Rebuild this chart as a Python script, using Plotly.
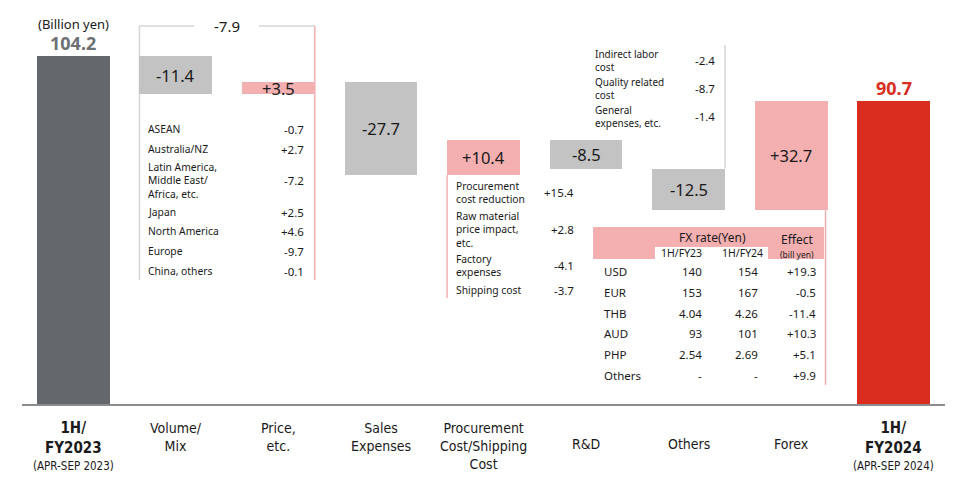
import plotly.graph_objects as go

# ---------------- data ----------------
categories = ["1H/<br>FY2023", "Volume/<br>Mix", "Price,<br>etc.", "Sales<br>Expenses",
              "Procurement<br>Cost/Shipping<br>Cost", "R&D", "Others", "Forex", "1H/<br>FY2024"]
period_labels = ["(APR-SEP 2023)", "(APR-SEP 2024)"]
start_total = 104.2
changes = [-11.4, 3.5, -27.7, 10.4, -8.5, -12.5, 32.7]
end_total = 90.7
volume_price_total = "-7.9"

volume_items = ["ASEAN", "Australia/NZ", "Latin America,<br>Middle East/<br>Africa, etc.",
                "Japan", "North America", "Europe", "China, others"]
volume_values = ["-0.7", "+2.7", "-7.2", "+2.5", "+4.6", "-9.7", "-0.1"]

procurement_items = ["Procurement<br>cost reduction", "Raw material<br>price impact,<br>etc.",
                     "Factory<br>expenses", "Shipping cost"]
procurement_values = ["+15.4", "+2.8", "-4.1", "-3.7"]

others_items = ["Indirect labor<br>cost", "Quality related<br>cost", "General<br>expenses, etc."]
others_values = ["-2.4", "-8.7", "-1.4"]

fx_currencies = ["USD", "EUR", "THB", "AUD", "PHP", "Others"]
fx_fy23 = ["140", "153", "4.04", "93", "2.54", "-"]
fx_fy24 = ["154", "167", "4.26", "101", "2.69", "-"]
fx_effect = ["+19.3", "-0.5", "-11.4", "+10.3", "+5.1", "+9.9"]

# ---------------- layout helpers ----------------
W, H = 960, 484
ML, MR, MT, MB = 22, 15, 0, 80
PW = W - ML - MR
PH = H - MT - MB
NCAT = len(categories)
YMAX = 121.0
BW = 0.71

def px2x(px):
    return (px - ML) / PW * NCAT - 0.5

def py2y(py):
    return (MT + PH - py) / PH * YMAX

def py2paper(py):
    return (MT + PH - py) / PH

GRAY_DARK = "#64676b"
GRAY = "#c3c3c3"
PINK = "#f4b0b0"
RED = "#d92d20"
LINE_GRAY = "#d6d6d6"
TXT = "#1a1a1a"
FONT = "Noto Sans, Open Sans, DejaVu Sans, sans-serif"
CFONT = "DejaVu Sans Condensed, Liberation Sans Narrow, Noto Sans, sans-serif"

# waterfall geometry from data
bases, heights, colors = [0], [start_total], [GRAY_DARK]
level = start_total
for c in changes:
    if c < 0:
        bases.append(level + c)
        heights.append(-c)
        colors.append(GRAY)
    else:
        bases.append(level)
        heights.append(c)
        colors.append(PINK)
    level += c
bases.append(0)
heights.append(end_total)
colors.append(RED)

xs = list(range(NCAT))
fig = go.Figure()
fig.add_trace(go.Bar(x=xs, y=heights, base=bases, width=BW,
                     marker=dict(color=colors, line=dict(width=0)),
                     hoverinfo="skip", showlegend=False))

ann = []
def A(x, y, text, size=11, color=TXT, xanchor="center", yanchor="middle",
      xref="x", yref="y", family=FONT, align="left"):
    ann.append(dict(x=x, y=y, text=text, showarrow=False, xref=xref, yref=yref,
                    xanchor=xanchor, yanchor=yanchor, align=align, borderpad=0,
                    font=dict(size=size, color=color, family=family)))

# bar labels
A(0, start_total, "<b>104.2</b>", size=18, color="#6d7074", yanchor="bottom")
A(0, start_total + 6.6, "(Billion yen)", size=13, yanchor="bottom")
A(NCAT - 1, end_total, "<b>90.7</b>", size=18, color=RED, yanchor="bottom")
for i, c in enumerate(changes, start=1):
    mid = bases[i] + heights[i] / 2
    label = ("+" if c > 0 else "") + f"{c:.1f}"
    A(i, mid, label, size=16.5)

# volume/price bracket
left_x = 1 - BW / 2
right_x = 2 + BW / 2
top_y = py2y(26)
bot_y = py2y(280)
A(1.5, top_y, volume_price_total, size=15)
shapes = []
def L(x0, y0, x1, y1, color, width=1.5):
    shapes.append(dict(type="line", x0=x0, y0=y0, x1=x1, y1=y1, xref="x", yref="y",
                       line=dict(color=color, width=width), layer="below"))
L(left_x, top_y, left_x, bot_y, LINE_GRAY)
L(left_x, top_y, px2x(194), top_y, LINE_GRAY)
L(px2x(259), top_y, right_x, top_y, LINE_GRAY)
L(right_x, top_y, right_x, bot_y, PINK)

vol_rows = [129, 149, 180, 212, 231, 251, 271]
for name, val, py in zip(volume_items, volume_values, vol_rows):
    A(px2x(147), py2y(py), name, size=10.3, xanchor="left")
    A(px2x(305), py2y(py), val, size=11.5, xanchor="right")

# procurement details
pl = 4 - BW / 2
L(pl, bases[4], pl, py2y(298), PINK)
proc_rows = [192, 229, 265, 290]
for name, val, py in zip(procurement_items, procurement_values, proc_rows):
    A(px2x(455), py2y(py), name, size=10.3, xanchor="left")
    A(px2x(575), py2y(py), val, size=11.5, xanchor="right")

# others details
orx = 6 + BW / 2
L(orx, bases[6] + heights[6], orx, py2y(45), LINE_GRAY)
oth_rows = [60, 88, 116]
for name, val, py in zip(others_items, others_values, oth_rows):
    A(px2x(594), py2y(py), name, size=10, xanchor="left")
    A(px2x(716), py2y(py), val, size=11.5, xanchor="right")

# forex table
frx = 7 + BW / 2 - 0.02
L(frx, bases[7], frx, py2y(385), PINK)
shapes.append(dict(type="rect", x0=px2x(593), x1=px2x(824), y0=py2y(227), y1=py2y(259),
                   xref="x", yref="y", fillcolor=PINK, line=dict(width=0), layer="below"))
shapes.append(dict(type="rect", x0=px2x(655), x1=px2x(768), y0=py2y(247), y1=py2y(259),
                   xref="x", yref="y", fillcolor="white", line=dict(width=0), layer="below"))
A(px2x(712), py2y(237), "FX rate(Yen)", size=12)
A(px2x(681), py2y(253), "1H/FY23", size=10.5)
A(px2x(742), py2y(253), "1H/FY24", size=10.5)
A(px2x(797), py2y(239), "Effect", size=12)
A(px2x(797), py2y(254), "(bill yen)", size=8.5)
fx_rows = [271, 292, 313, 333, 354, 375]
for cur, a, b, e, py in zip(fx_currencies, fx_fy23, fx_fy24, fx_effect, fx_rows):
    A(px2x(603), py2y(py), cur, size=11.5, xanchor="left")
    A(px2x(703), py2y(py), a, size=11.5, xanchor="right")
    A(px2x(759), py2y(py), b, size=11.5, xanchor="right")
    A(px2x(817), py2y(py), e, size=11.5, xanchor="right")

# category labels
for i, cat in enumerate(categories):
    if i in (0, NCAT - 1):
        A(i, py2paper(418), "<b>" + cat + "</b>", size=15, yref="paper",
          yanchor="top", family=CFONT, align="center")
        A(i, py2paper(466), period_labels[0 if i == 0 else 1], size=11.5, yref="paper",
          family=CFONT, align="center")
    elif "<br>" in cat:
        A(i, py2paper(419), cat, size=14, yref="paper", yanchor="top",
          family=CFONT, align="center")
    else:
        A(i, py2paper(444), cat, size=14, yref="paper", family=CFONT, align="center")

fig.update_layout(
    width=W, height=H,
    margin=dict(l=ML, r=MR, t=MT, b=MB),
    plot_bgcolor="white", paper_bgcolor="white",
    xaxis=dict(range=[-0.5, NCAT - 0.5], showticklabels=False, showgrid=False,
               zeroline=False, showline=True, linecolor="#8a8c8f", linewidth=2,
               ticks="", fixedrange=True),
    yaxis=dict(range=[0, YMAX], showticklabels=False, showgrid=False, zeroline=False,
               showline=False, fixedrange=True),
    annotations=ann, shapes=shapes, bargap=0,
)

fig.write_html("out.html", config={"displayModeBar": False},
               post_script="document.body.style.margin='0';")
